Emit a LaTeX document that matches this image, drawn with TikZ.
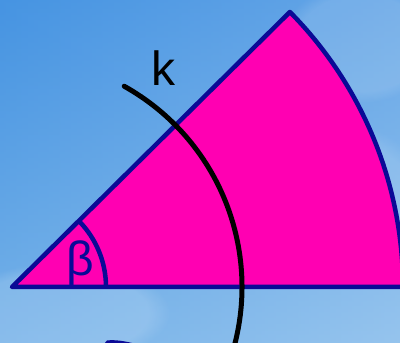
\documentclass[tikz,border=0pt]{standalone}
\usepackage{fontspec}
\setmainfont{Liberation Sans}
\usetikzlibrary{fadings}
\begin{document}
\begin{tikzpicture}[x=1pt,y=1pt,
  outline/.style={draw=navyblue,line width=4.5pt,line join=round,line cap=round},
  arck/.style={draw=black,line width=5pt,line cap=round},
  lbl/.style={font=\fontsize{48}{48}\selectfont,inner sep=0pt},
  cloud/.style={fill=white,path fading=circle with fuzzy edge 20 percent}]
\definecolor{navyblue}{RGB}{10,10,150}
\definecolor{mag}{RGB}{255,0,178}
\definecolor{skytop}{RGB}{70,148,226}
\definecolor{skybot}{RGB}{165,208,240}
\definecolor{skyright}{RGB}{135,185,236}
\useasboundingbox (0,0) rectangle (400,343);
\clip (0,0) rectangle (400,343);
% sky
\shade[top color=skytop,bottom color=skybot] (0,0) rectangle (400,343);
\shade[left color=skytop,right color=skyright,opacity=0.5] (0,0) rectangle (400,343);
\fill[cloud,opacity=0.15] (60,30) ellipse (110 and 50);
\fill[cloud,opacity=0.12] (340,140) ellipse (90 and 80);
\fill[cloud,opacity=0.12] (360,300) ellipse (80 and 60);
% apex
\coordinate (A) at (12,56);
% sector
\path[fill=mag,outline] (A) -- ++(0:391) arc[start angle=0,end angle=44.7,radius=391] -- cycle;
% angle arc
\draw[outline,line cap=butt] ([shift={(0:94)}]A) arc[start angle=0,end angle=44.7,radius=94];
\node[lbl,text=navyblue] (beta) at (80,80) {β};
% arc k
\draw[arck] ([shift={(60.8:230)}]A) arc[start angle=60.8,end angle=-17,radius=230];
\node[lbl] (k) at (163,275) {k};
% partial shape at bottom
\fill[navyblue] (104,-1) -- (107,2.5) .. controls (115,3.5) and (125,2) .. (136,-1) -- cycle;
\end{tikzpicture}
\end{document}
